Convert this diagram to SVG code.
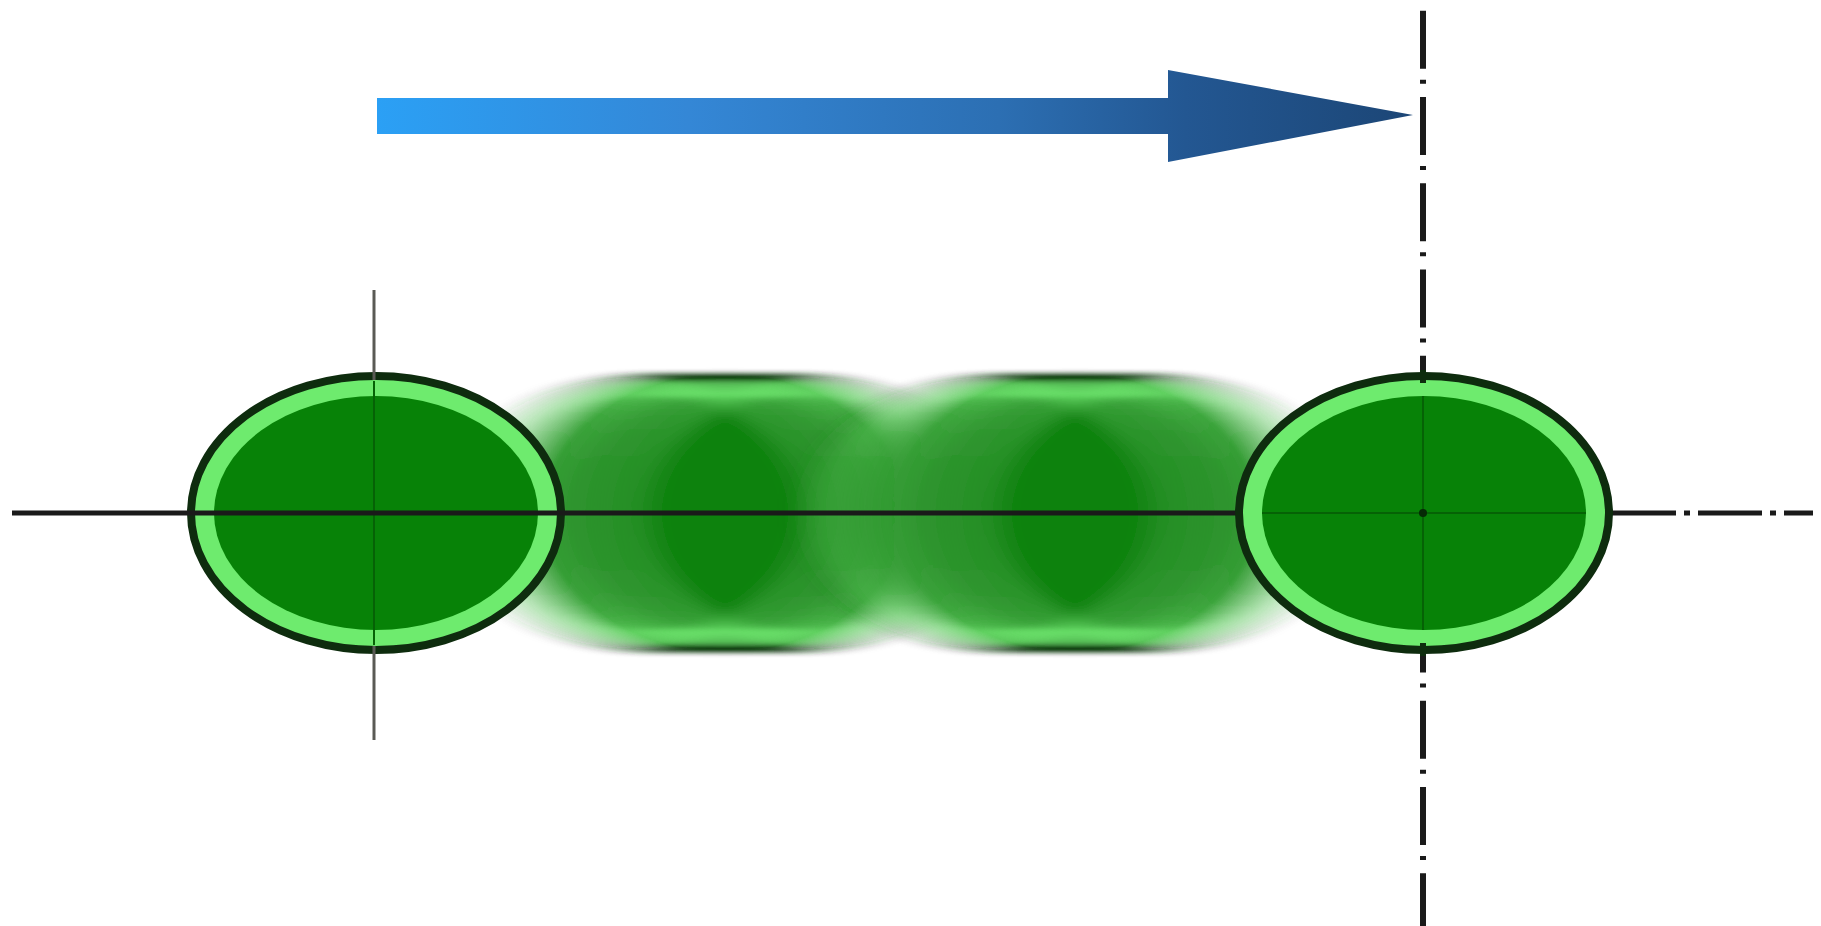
<svg xmlns="http://www.w3.org/2000/svg" width="1821" height="926" viewBox="0 0 1821 926">
  <defs>
    <linearGradient id="arrowGrad" gradientUnits="userSpaceOnUse" x1="377" y1="0" x2="1413" y2="0">
      <stop offset="0" stop-color="#2ba0f5"/>
      <stop offset="0.3" stop-color="#3487d6"/>
      <stop offset="0.6" stop-color="#2c6fb3"/>
      <stop offset="0.78" stop-color="#235792"/>
      <stop offset="1" stop-color="#1c4676"/>
    </linearGradient>
    <!-- horizontal motion smear: 8-tap box average, softened, then densified -->
    <filter id="motionBlur" x="-80%" y="-10%" width="260%" height="120%">
      <feOffset in="SourceGraphic" dx="-12" result="a1"/>
      <feOffset in="SourceGraphic" dx="12" result="a2"/>
      <feComposite in="a1" in2="a2" operator="arithmetic" k2="0.5" k3="0.5" result="a"/>
      <feOffset in="a" dx="-24" result="b1"/>
      <feOffset in="a" dx="24" result="b2"/>
      <feComposite in="b1" in2="b2" operator="arithmetic" k2="0.5" k3="0.5" result="b"/>
      <feOffset in="b" dx="-46" result="c1"/>
      <feOffset in="b" dx="46" result="c2"/>
      <feComposite in="c1" in2="c2" operator="arithmetic" k2="0.5" k3="0.5" result="c"/>
      <feGaussianBlur in="c" stdDeviation="14 2" result="d"/>
      <feComponentTransfer in="d">
        <feFuncA type="linear" slope="1.8"/>
      </feComponentTransfer>
    </filter>
    <!-- one disc: dark rim, light green ring, dark green core -->
    <g id="disc">
      <ellipse cx="0" cy="0" rx="185" ry="137" class="rim"/>
      <ellipse cx="0" cy="0" rx="162" ry="117" class="core"/>
    </g>
  </defs>
  <style>
    .rim { fill: #6eeb6e; stroke: #0e2c0e; stroke-width: 8; }
    .core { fill: #078207; }
    .axis { fill: none; stroke: #1a1a1a; stroke-width: 5; }
    .axisV { fill: none; stroke: #1a1a1a; stroke-width: 6; stroke-dasharray: 58 11 4 13.25; }
    .cross { fill: none; stroke: #5a5a55; stroke-width: 3; }
    .inner { fill: none; stroke: #056205; stroke-width: 2; }
  </style>

  <rect x="0" y="0" width="1821" height="926" fill="#ffffff"/>

  <!-- intermediate positions, smeared along the travel direction -->
  <g id="ghost-1" filter="url(#motionBlur)">
    <use href="#disc" x="725" y="513"/>
  </g>
  <g id="ghost-2" filter="url(#motionBlur)">
    <use href="#disc" x="1075" y="513"/>
  </g>

  <!-- start position -->
  <g id="start-disc">
    <use href="#disc" x="376" y="513"/>
    <line class="inner" x1="374" y1="381" x2="374" y2="645"/>
  </g>

  <g id="connectors">
    <!-- horizontal centre line -->
    <line class="axis" x1="12" y1="513" x2="1236" y2="513"/>
    <line class="axis" x1="1612" y1="513" x2="1813" y2="513" stroke-dasharray="64 8 6 8"/>
    <!-- start cross mark -->
    <line class="cross" x1="374" y1="290" x2="374" y2="380"/>
    <line class="cross" x1="374" y1="646" x2="374" y2="740"/>
    <!-- target centre line -->
    <line class="axisV" x1="1423" y1="0" x2="1423" y2="926" stroke-dashoffset="-10.75"/>
    <!-- travel arrow -->
    <path id="travel-arrow" d="M377 98 L1168 98 L1168 70 L1413 115 L1168 162 L1168 134 L377 134 Z" fill="url(#arrowGrad)"/>
  </g>

  <!-- end position -->
  <g id="end-disc">
    <use href="#disc" x="1424" y="513"/>
    <line class="inner" x1="1262" y1="513" x2="1586" y2="513"/>
    <line class="inner" x1="1423" y1="396" x2="1423" y2="630"/>
    <circle cx="1423" cy="513" r="4" fill="#062a06"/>
    <line x1="1423" y1="370" x2="1423" y2="383" stroke="#0e2c0e" stroke-width="6"/>
    <line x1="1423" y1="643" x2="1423" y2="656" stroke="#0e2c0e" stroke-width="6"/>
  </g>
</svg>
